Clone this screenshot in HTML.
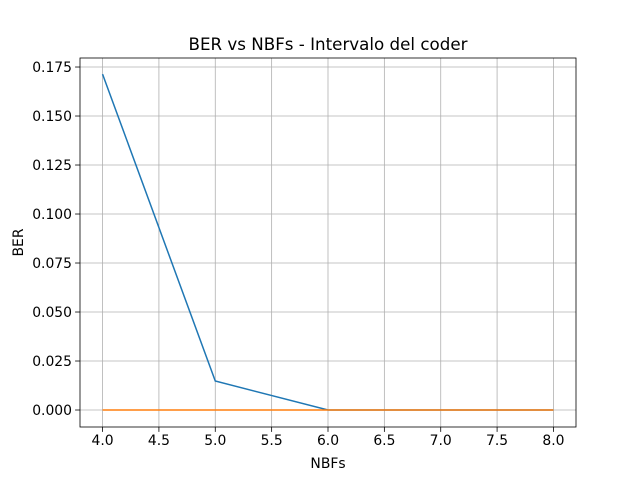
<!DOCTYPE html>
<html><head><meta charset="utf-8"><style>
body{margin:0;background:#fff;font-family:"DejaVu Sans","Liberation Sans",sans-serif}
text{font-family:"DejaVu Sans","Liberation Sans",sans-serif}
</style></head><body>
<svg id="chart" width="640" height="480" xmlns="http://www.w3.org/2000/svg"></svg>
<script>
const xValues=[4,5,6,7,8];
const blueSeries=[0.1714,0.0148,0,0,0];
const orangeSeries=[0,0,0,0,0];
const xTicks=[4.0,4.5,5.0,5.5,6.0,6.5,7.0,7.5,8.0];
const yTicks=[0,0.025,0.05,0.075,0.1,0.125,0.15,0.175];
const L=80,R=576,T=58,B=427;
const xMin=3.8,xMax=8.2,yMin=-0.00867,yMax=0.1796;
const sx=v=>L+(v-xMin)/(xMax-xMin)*(R-L);
const sy=v=>B-(v-yMin)/(yMax-yMin)*(B-T);
const svg=document.getElementById('chart');
const NS='http://www.w3.org/2000/svg';
function mk(tag,attrs,parent){const e=document.createElementNS(NS,tag);for(const k in attrs)e.setAttribute(k,attrs[k]);(parent||svg).appendChild(e);return e;}
const grid=mk('g',{});


xTicks.forEach(t=>{const x=sx(t);
 const g=mk('line',{x1:x,x2:x,y1:T,y2:B,stroke:'#b0b0b0','stroke-width':0.8},grid);
 
 
 mk('line',{x1:x,x2:x,y1:B,y2:B+4.9,stroke:'#000','stroke-width':0.8});
 const tx=mk('text',{x:x,y:B+18,'font-size':13.9,'text-anchor':'middle',fill:'#000'});
 tx.textContent=t.toFixed(1);
 
 
});
yTicks.forEach(t=>{const y=sy(t);
 const g=mk('line',{x1:L,x2:R,y1:y,y2:y,stroke:'#b0b0b0','stroke-width':0.8},grid);
 
 
 mk('line',{x1:L-4.9,x2:L,y1:y,y2:y,stroke:'#000','stroke-width':0.8});
 const tx=mk('text',{x:L-8,y:y+5,'font-size':13.9,'text-anchor':'end',fill:'#000'});
 tx.textContent=t.toFixed(3);
 
 
});
function line(vals,color,name){
 const p=mk('polyline',{points:xValues.map((x,i)=>sx(x)+','+sy(vals[i])).join(' '),fill:'none',stroke:color,'stroke-width':1.5});
 
 
}
line(blueSeries,'#1f77b4','blue-series-line');
line(orangeSeries,'#ff7f0e','orange-series-line');
const fr=mk('rect',{x:L,y:T,width:R-L,height:B-T,fill:'none',stroke:'#000','stroke-width':0.8});


const ti=mk('text',{x:(L+R)/2,y:50,'font-size':16.7,'text-anchor':'middle',fill:'#000'});
ti.textContent='BER vs NBFs - Intervalo del coder';


const xl=mk('text',{x:(L+R)/2,y:468,'font-size':13.9,'text-anchor':'middle',fill:'#000'});
xl.textContent='NBFs';


const yl=mk('text',{x:0,y:0,'font-size':13.9,'text-anchor':'middle',fill:'#000',transform:'translate(23,'+((T+B)/2)+') rotate(-90)'});
yl.textContent='BER';


</script>
</body></html>
